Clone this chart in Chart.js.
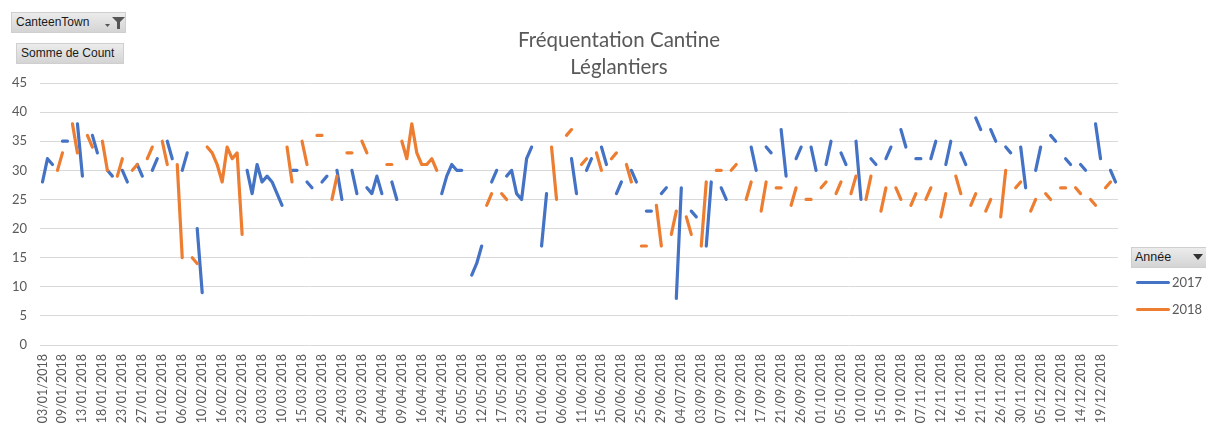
<!DOCTYPE html>
<html>
<head>
<meta charset="utf-8">
<script src="https://cdn.jsdelivr.net/npm/chart.js@4/dist/chart.umd.min.js"></script>
<style>
  html, body { margin:0; padding:0; background:#fff; }
  #wrap { position:relative; width:1206px; height:425px; overflow:hidden; background:#fff; }
  #c { position:absolute; left:0; top:0; }
  .title { position:absolute; left:419px; width:400px; top:26px; text-align:center;
           font-family:Lato, "Open Sans", sans-serif; font-size:20.5px; line-height:27px; color:#595959; }
  .btn { position:absolute; height:21px; box-sizing:border-box;
         background:linear-gradient(#ececec,#d4d4d4); border:1px solid #cfcfcf;
         font-family:"Liberation Sans", Arial, sans-serif; font-size:12px; color:#1a1a1a; line-height:19px; }
  .leg { position:absolute; font-family:Lato, sans-serif; font-size:13px; color:#595959; }
  .legline { position:absolute; height:3px; border-radius:2px; }
</style>
</head>
<body>
<div id="wrap">
  <canvas id="c" width="1206" height="425"></canvas>
  <div class="title">Fréquentation Cantine<br>Léglantiers</div>
  <div class="btn" style="left:11px;top:12px;width:115px;padding-left:4px;">CanteenTown
    <svg style="position:absolute;left:92px;top:3px" width="22" height="14" viewBox="0 0 22 14">
      <polygon points="1,8 6,8 3.5,11" fill="#555"/>
      <polygon points="8,1 21,1 16,6 16,13 13,13 13,6" fill="#555"/>
    </svg>
  </div>
  <div class="btn" style="left:16px;top:43px;width:108px;padding-left:4px;">Somme de Count</div>
  <div class="btn" style="left:1131px;top:247px;width:80px;padding-left:3px;font-size:12.5px;">Année
    <svg style="position:absolute;left:61px;top:6px" width="10" height="7" viewBox="0 0 10 7">
      <polygon points="0,0 10,0 5,6" fill="#333"/>
    </svg>
  </div>
  <div class="legline" style="left:1136px;top:281px;width:34px;background:#4472C4"></div>
  <div class="leg" style="left:1172px;top:274px;">2017</div>
  <div class="legline" style="left:1136px;top:308px;width:34px;background:#ED7D31"></div>
  <div class="leg" style="left:1172px;top:301px;">2018</div>
</div>
<script>
// Tick labels shown on the category axis (every 4th category)
const tickLabels = ['03/01/2018','09/01/2018','13/01/2018','18/01/2018','23/01/2018','27/01/2018',
  '01/02/2018','06/02/2018','10/02/2018','16/02/2018','23/02/2018','03/03/2018','10/03/2018',
  '15/03/2018','20/03/2018','24/03/2018','29/03/2018','04/04/2018','09/04/2018','16/04/2018',
  '24/04/2018','05/05/2018','12/05/2018','17/05/2018','23/05/2018','01/06/2018','06/06/2018',
  '11/06/2018','15/06/2018','20/06/2018','25/06/2018','29/06/2018','04/07/2018','03/09/2018',
  '07/09/2018','12/09/2018','17/09/2018','21/09/2018','26/09/2018','01/10/2018','05/10/2018',
  '10/10/2018','15/10/2018','19/10/2018','07/11/2018','12/11/2018','16/11/2018','21/11/2018',
  '26/11/2018','30/11/2018','05/12/2018','10/12/2018','14/12/2018','19/12/2018'];

const seriesNames = ['2017','2018'];

// Année 2017 (216 categories, null = no value)
const y2017 = [
  28,32,31,null,35,35,null,38,29,null,36,33,
  null,30,29,null,30,28,null,31,29,null,30,32,
  null,35,32,null,30,33,null,20,9,null,null,null,
  null,null,null,null,null,30,26,31,28,29,28,26,
  24,null,30,30,null,28,27,null,28,29,null,30,
  25,null,30,26,null,27,26,29,26,null,28,25,
  null,null,null,null,null,null,null,null,26,29,31,30,
  30,null,12,14,17,null,28,30,null,29,30,26,
  25,32,34,null,17,26,null,null,null,null,32,26,
  null,30,32,null,34,31,null,26,28,null,30,28,
  null,23,23,null,26,27,null,8,27,null,23,22,
  null,17,28,null,27,25,null,null,null,null,34,30,
  null,34,33,null,37,29,null,32,34,null,34,30,
  null,31,35,null,33,31,null,35,25,null,32,31,
  null,32,34,null,37,34,null,32,32,null,32,35,
  null,31,35,null,33,31,null,39,37,null,37,35,
  null,34,33,null,34,27,null,30,34,null,36,35,
  null,32,31,null,31,30,null,38,32,null,30,28
];

// Année 2018
const y2018 = [
  null,null,null,30,33,null,38,33,null,36,34,null,
  35,30,null,29,32,null,30,31,null,32,34,null,
  35,31,null,31,15,null,15,14,null,34,33,31,
  28,34,32,33,19,null,null,null,null,null,null,null,
  null,34,28,null,35,31,null,36,36,null,25,29,
  null,33,33,null,35,33,null,null,null,31,31,null,
  35,32,38,33,31,31,32,30,null,null,null,null,
  null,null,null,null,null,24,26,null,26,25,null,null,
  null,null,null,null,null,null,34,25,null,36,37,null,
  31,32,null,33,30,null,32,33,null,31,28,null,
  17,17,null,24,17,null,19,23,null,22,19,null,
  17,28,null,30,30,null,30,31,null,25,28,null,
  23,28,null,27,27,null,24,27,null,25,25,null,
  27,28,null,26,28,null,26,29,null,25,29,null,
  23,27,null,27,25,null,24,26,null,25,27,null,
  22,26,null,29,26,null,24,26,null,23,25,null,
  22,30,null,27,28,null,23,25,null,26,25,null,
  27,27,null,27,26,null,25,24,null,27,28,null
];

const yTicks = [0,5,10,15,20,25,30,35,40,45];

const categories = y2017.map((_, i) => (i % 4 === 0 ? tickLabels[i / 4] : ''));

new Chart(document.getElementById('c'), {
  type: 'line',
  data: {
    labels: categories,
    datasets: [
      { label: seriesNames[0], data: y2017, borderColor: '#4472C4', backgroundColor: '#4472C4',
        borderWidth: 3.2, pointRadius: 0, spanGaps: false, tension: 0,
        borderCapStyle: 'round', borderJoinStyle: 'round', order: 1 },
      { label: seriesNames[1], data: y2018, borderColor: '#ED7D31', backgroundColor: '#ED7D31',
        borderWidth: 3.2, pointRadius: 0, spanGaps: false, tension: 0,
        borderCapStyle: 'round', borderJoinStyle: 'round', order: 0 }
    ]
  },
  options: {
    responsive: false,
    animation: false,
    devicePixelRatio: 1,
    layout: { padding: { left: 0, right: 88, top: 83, bottom: 0 } },
    plugins: { legend: { display: false }, tooltip: { enabled: false }, title: { display: false } },
    scales: {
      x: {
        type: 'category',
        offset: true,
        grid: { display: false, drawTicks: false },
        border: { display: false },
        afterFit: (s) => { s.height = 80; },
        ticks: {
          autoSkip: false, minRotation: 90, maxRotation: 90, padding: 9,
          color: '#595959', font: { family: 'Lato', size: 12.5 }
        }
      },
      y: {
        min: 0, max: 45,
        afterBuildTicks: (s) => { s.ticks = yTicks.map(v => ({ value: v })); },
        afterFit: (s) => { s.width = 40; },
        grid: { color: '#d9d9d9', lineWidth: 1, drawTicks: false },
        border: { display: false },
        ticks: { padding: 13, color: '#595959', font: { family: 'Lato', size: 13 } }
      }
    }
  }
});
</script>
</body>
</html>
